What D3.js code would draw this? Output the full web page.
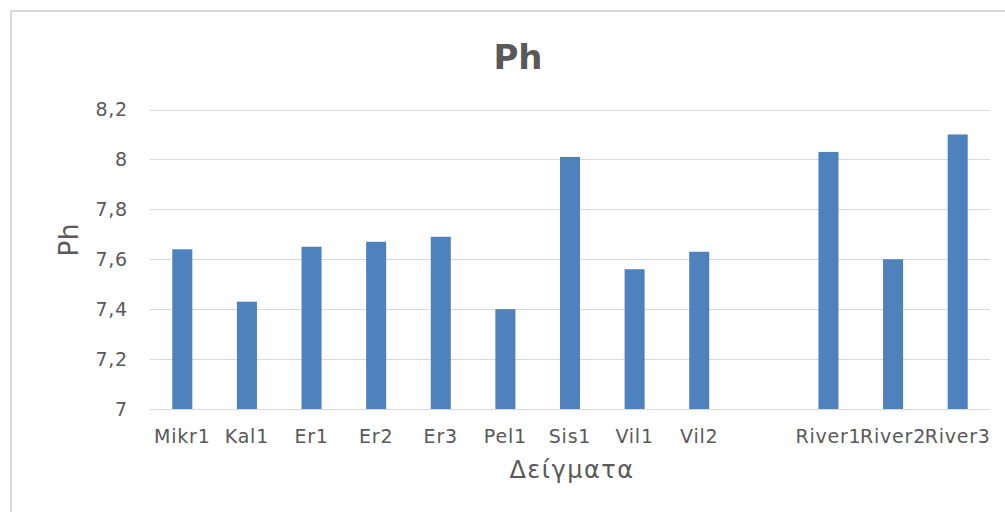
<!DOCTYPE html>
<html>
<head>
<meta charset="utf-8">
<script src="https://cdn.jsdelivr.net/npm/d3@7"></script>
<style>
  body { margin: 0; background: #fff; }
  svg text { font-family: "DejaVu Sans", sans-serif; fill: #595959; }
</style>
</head>
<body>
<div id="chart"></div>
<script>
// samples (one empty slot between Vil2 and River1, as in the sheet)
var samples = ["Mikr1", "Kal1", "Er1", "Er2", "Er3", "Pel1", "Sis1", "Vil1", "Vil2", "", "River1", "River2", "River3"];
var phValues = [7.64, 7.43, 7.65, 7.67, 7.69, 7.40, 8.01, 7.56, 7.63, null, 8.03, 7.60, 8.10];
var yTicks = [7, 7.2, 7.4, 7.6, 7.8, 8, 8.2];

var W = 1005, H = 512;
var plot = {left: 150, right: 990, top: 109.5, bottom: 409};

var svg = d3.select("#chart").append("svg")
    .attr("width", W)
    .attr("height", H);

// chart frame (runs off the right and bottom edge)
svg.append("rect")
    .attr("x", 11).attr("y", 11)
    .attr("width", 1100).attr("height", 600)
    .attr("fill", "none")
    .attr("stroke", "#d9d9d9")
    .attr("stroke-width", 2);

var x = d3.scaleBand()
    .domain(samples)
    .range([plot.left, plot.right])
    .paddingInner(0.69)
    .paddingOuter(0.345);

var y = d3.scaleLinear()
    .domain([7, 8.2])
    .range([plot.bottom, plot.top]);

var fmt = function(d) { return d3.format("~g")(d).replace(".", ","); };

// gridlines
svg.append("g")
    .selectAll("line")
    .data(yTicks.slice(1))
    .enter().append("line")
    .attr("x1", plot.left).attr("x2", plot.right)
    .attr("y1", function(d) { return Math.round(y(d)) + 0.5; })
    .attr("y2", function(d) { return Math.round(y(d)) + 0.5; })
    .attr("stroke", "#d9d9d9")
    .attr("stroke-width", 1);

// y tick labels
svg.append("g")
    .selectAll("text")
    .data(yTicks)
    .enter().append("text")
    .attr("x", 128)
    .attr("y", function(d) { return y(d); })
    .attr("dy", "0.36em")
    .attr("text-anchor", "end")
    .style("font-size", "19px")
    .style("letter-spacing", "0.8px")
    .text(fmt);

// bars
svg.append("g")
    .selectAll("rect")
    .data(samples.map(function(s, i) { return {name: s, value: phValues[i]}; })
        .filter(function(d) { return d.value !== null; }))
    .enter().append("rect")
    .attr("x", function(d) { return x(d.name); })
    .attr("width", x.bandwidth())
    .attr("y", function(d) { return y(d.value); })
    .attr("height", function(d) { return y(7) - y(d.value); })
    .attr("fill", "#4f81bd");

// x axis line
svg.append("line")
    .attr("x1", plot.left).attr("x2", plot.right)
    .attr("y1", Math.round(y(7)) + 0.5).attr("y2", Math.round(y(7)) + 0.5)
    .attr("stroke", "#d9d9d9")
    .attr("stroke-width", 1);

// x tick labels
svg.append("g")
    .selectAll("text")
    .data(samples)
    .enter().append("text")
    .attr("x", function(d) { return x(d) + x.bandwidth() / 2; })
    .attr("y", 443)
    .attr("text-anchor", "middle")
    .style("font-size", "19px")
    .style("letter-spacing", "0.8px")
    .text(function(d) { return d; });

// title
svg.append("text")
    .attr("x", 518)
    .attr("y", 69)
    .attr("text-anchor", "middle")
    .style("font-size", "34px")
    .style("font-weight", "bold")
    .text("Ph");

// y axis title
svg.append("text")
    .attr("transform", "translate(78,240)rotate(-90)")
    .attr("text-anchor", "middle")
    .style("font-size", "27px")
    .text("Ph");

// x axis title
svg.append("text")
    .attr("x", 572)
    .attr("y", 478)
    .attr("text-anchor", "middle")
    .style("font-size", "24px")
    .style("letter-spacing", "1.5px")
    .text("Δείγματα");
</script>
</body>
</html>
